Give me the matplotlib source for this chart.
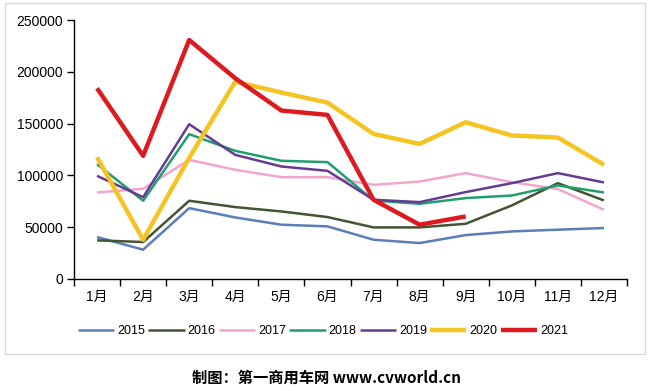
import matplotlib
matplotlib.use("Agg")
import matplotlib.pyplot as plt
from matplotlib.patches import Rectangle

plt.rcParams['font.family'] = ['Liberation Sans', 'Noto Sans CJK SC', 'DejaVu Sans']

months = ['1月', '2月', '3月', '4月', '5月', '6月', '7月', '8月', '9月', '10月', '11月', '12月']
s2015 = [40500, 28300, 68400, 59400, 52400, 50800, 37900, 34700, 42400, 45900, 47600, 49200]
s2016 = [37300, 35700, 75500, 69400, 65200, 59800, 49800, 49800, 53300, 71000, 92500, 75800]
s2017 = [83500, 87100, 115000, 105400, 98300, 98300, 90900, 94100, 102200, 93500, 86800, 66800]
s2018 = [110800, 75500, 139800, 123700, 114100, 112800, 75800, 72600, 78100, 80600, 90300, 83500]
s2019 = [99600, 79000, 149400, 119800, 108600, 104400, 76500, 74200, 83900, 92500, 102200, 93200]
s2020 = [117500, 37900, 117000, 190500, 180000, 170300, 140000, 130400, 151300, 138500, 136600, 110200]
s2021 = [184100, 118900, 230700, 193700, 162600, 158400, 76500, 52400, 60400]
years = ['2015', '2016', '2017', '2018', '2019', '2020', '2021']
series = [s2015, s2016, s2017, s2018, s2019, s2020, s2021]
colors = ['#5B7DB8', '#435532', '#F2A6CB', '#1F9E6E', '#643C92', '#F5C423', '#DD1A1F']
widths = [1.8, 1.8, 1.8, 1.8, 1.8, 3.2, 3.2]

fig = plt.figure(figsize=(6.5, 3.91), dpi=100)
ax = fig.add_axes([74/650, 1-279/391, (627-74)/650, (279-20)/391])

x = list(range(len(months)))
for name, vals, c, w in zip(years, series, colors, widths):
    ax.plot(x[:len(vals)], vals, color=c, lw=w, label=name, solid_capstyle='butt', zorder=3)

ax.set_xlim(-0.5, 11.5)
ax.set_ylim(0, 250000)
ax.set_yticks(range(0, 250001, 50000))
ax.set_yticklabels([str(v) for v in range(0, 250001, 50000)], fontsize=10)
ax.set_xticks([i - 0.5 for i in range(13)], minor=False)
ax.set_xticklabels([])
ax.set_xticks(x, minor=True)
ax.set_xticklabels(months, minor=True, fontsize=10)
ax.tick_params(axis='x', which='major', direction='out', length=5, width=1, color='black')
ax.tick_params(axis='x', which='minor', length=0, pad=8)
ax.tick_params(axis='y', direction='out', length=5, width=1, color='black', pad=3)
for s in ['top', 'right']:
    ax.spines[s].set_visible(False)
for s in ['left', 'bottom']:
    ax.spines[s].set_color('black')
    ax.spines[s].set_linewidth(1)

handles, labels = ax.get_legend_handles_labels()
leg = fig.legend(handles, labels, loc='center', bbox_to_anchor=(323/650, 1-331/391), ncol=7,
                 frameon=False, fontsize=9, handlelength=2.9, handletextpad=0.25,
                 columnspacing=0.25, borderpad=0)

fig.patches.append(Rectangle((5/650, 1-354/391), 640/650, 351/391, transform=fig.transFigure,
                             fill=False, edgecolor='#D9D9D9', lw=1))

fig.text(327/650, 1-378/391, '制图：第一商用车网 www.cvworld.cn', ha='center', va='center',
         fontsize=11, fontweight='bold', family=['Noto Sans CJK SC', 'DejaVu Sans'])

fig.savefig('out.png', dpi=100)
